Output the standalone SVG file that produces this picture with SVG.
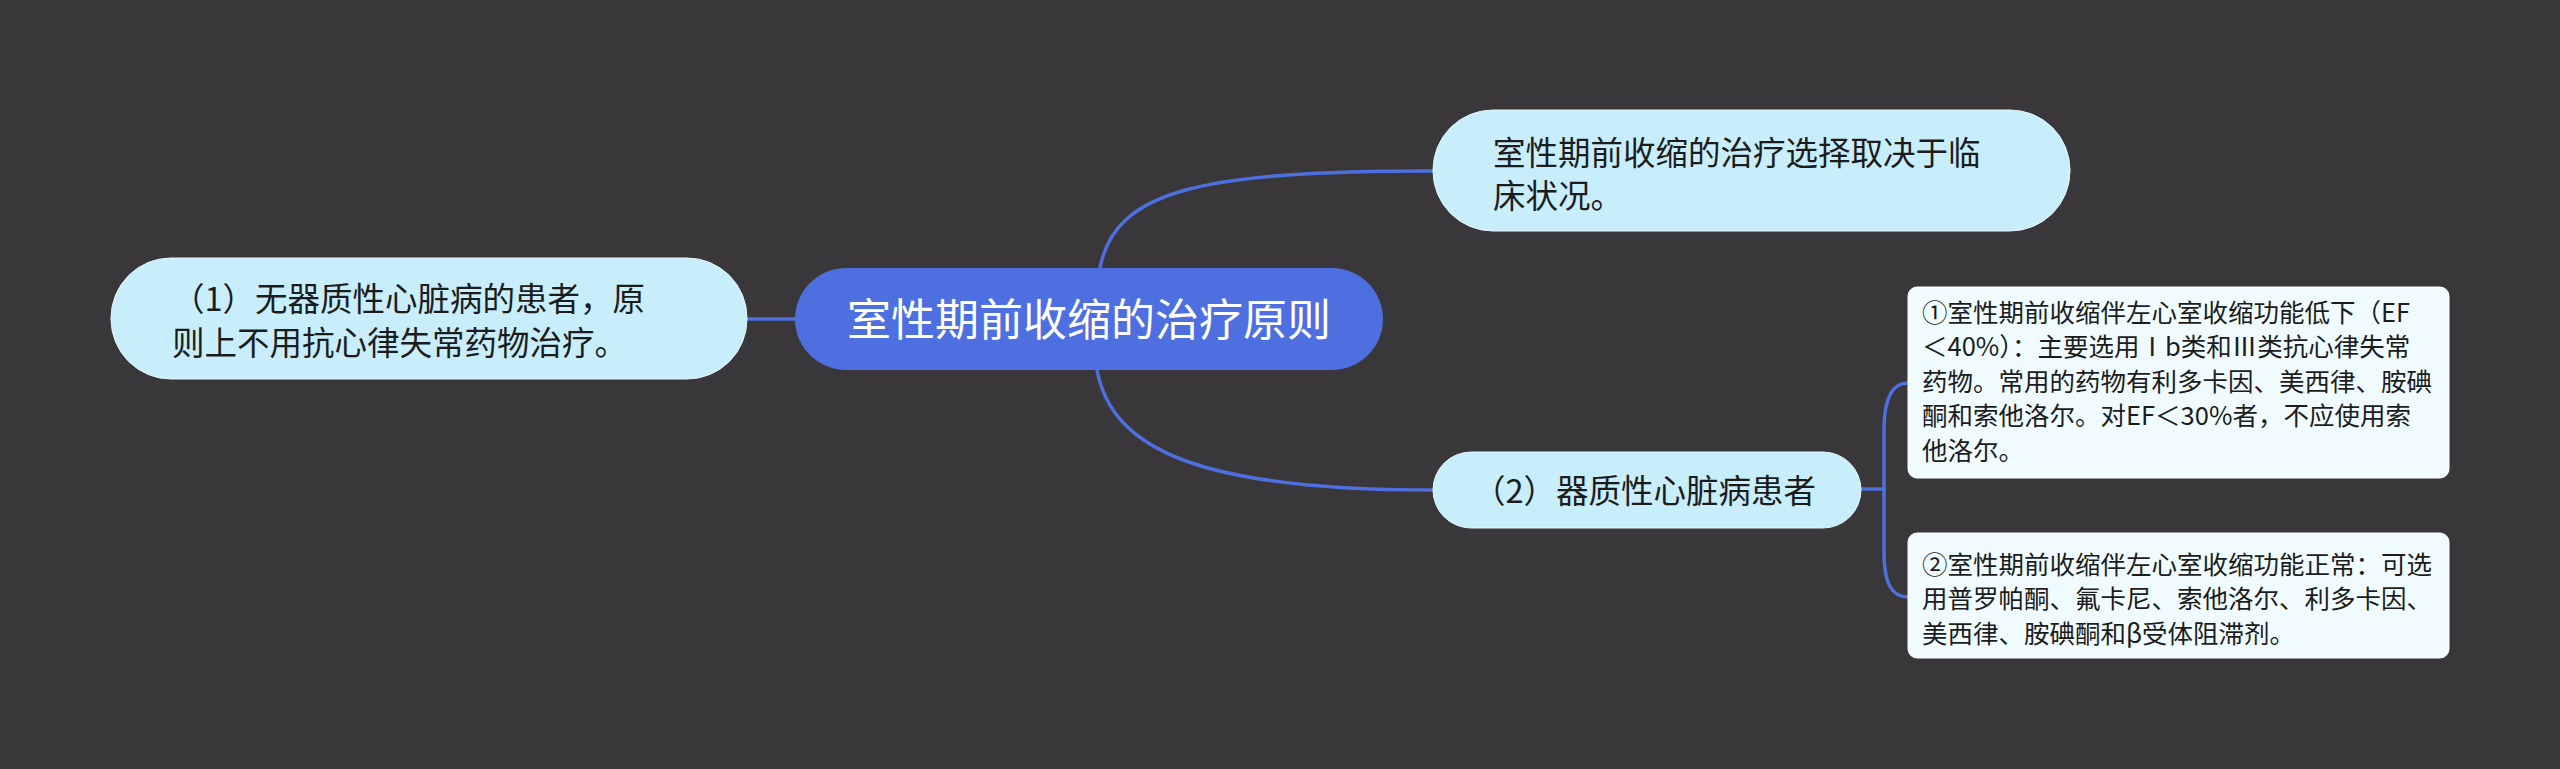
<svg xmlns="http://www.w3.org/2000/svg" width="2560" height="769" viewBox="0 0 2560 769">
<style>
.bg{fill:#393739}
.conn{fill:none;stroke:#4d6fe0;stroke-width:3.5;stroke-linecap:round}
.root{fill:#4d6fe0}
.l1{fill:#c8eefc;stroke:#e6f7fe;stroke-width:1}
.l2{fill:#effbfe;stroke:#ffffff;stroke-width:1}
text{font-family:"Noto Sans CJK SC","Noto Sans",sans-serif;fill:#1c1c1c}
.t0{font-size:44px;fill:#ffffff}
.t1{font-size:32.5px}
.t2{font-size:25.5px}
</style>
<rect class="bg" x="0" y="0" width="2560" height="769"/>
<g id="connectors">
<path class="conn" d="M747,319 H795"/>
<path class="conn" d="M1100,268 C1115,190 1200,171 1433,171"/>
<path class="conn" d="M1097,370 C1112,450 1200,490 1433,490"/>
<path class="conn" d="M1861,489 H1884"/>
<path class="conn" d="M1908,383 C1892,383 1884,398 1884,430 V552 C1884,584 1892,597 1908,597"/>
</g>
<g id="root">
<rect class="root" x="795" y="268" width="588" height="102" rx="51"/>
<text class="t0" x="1089" y="335.5" text-anchor="middle">室性期前收缩的治疗原则</text>
</g>
<g id="node-left">
<rect class="l1" x="111" y="258" width="636" height="121" rx="60"/>
<text class="t1" x="172" y="311">（1）无器质性心脏病的患者，原</text>
<text class="t1" x="172" y="354.5">则上不用抗心律失常药物治疗。</text>
</g>
<g id="node-top">
<rect class="l1" x="1433" y="110" width="637" height="121" rx="60"/>
<text class="t1" x="1493" y="164.5">室性期前收缩的治疗选择取决于临</text>
<text class="t1" x="1493" y="207.5">床状况。</text>
</g>
<g id="node-2">
<rect class="l1" x="1433" y="452" width="428" height="76" rx="38"/>
<text class="t1" x="1473" y="502.5">（2）器质性心脏病患者</text>
</g>
<g id="node-2a">
<rect class="l2" x="1908" y="287" width="541" height="191" rx="9"/>
<text class="t2" x="1922" y="321.7">①室性期前收缩伴左心室收缩功能低下（EF</text>
<text class="t2" x="1922" y="356.2">＜40%）：主要选用Ⅰb类和Ⅲ类抗心律失常</text>
<text class="t2" x="1922" y="390.7">药物。常用的药物有利多卡因、美西律、胺碘</text>
<text class="t2" x="1922" y="425.2">酮和索他洛尔。对EF＜30%者，不应使用索</text>
<text class="t2" x="1922" y="459.7">他洛尔。</text>
</g>
<g id="node-2b">
<rect class="l2" x="1908" y="533" width="541" height="125" rx="9"/>
<text class="t2" x="1922" y="573.7">②室性期前收缩伴左心室收缩功能正常：可选</text>
<text class="t2" x="1922" y="608.2">用普罗帕酮、氟卡尼、索他洛尔、利多卡因、</text>
<text class="t2" x="1922" y="642.7">美西律、胺碘酮和β受体阻滞剂。</text>
</g>
</svg>
